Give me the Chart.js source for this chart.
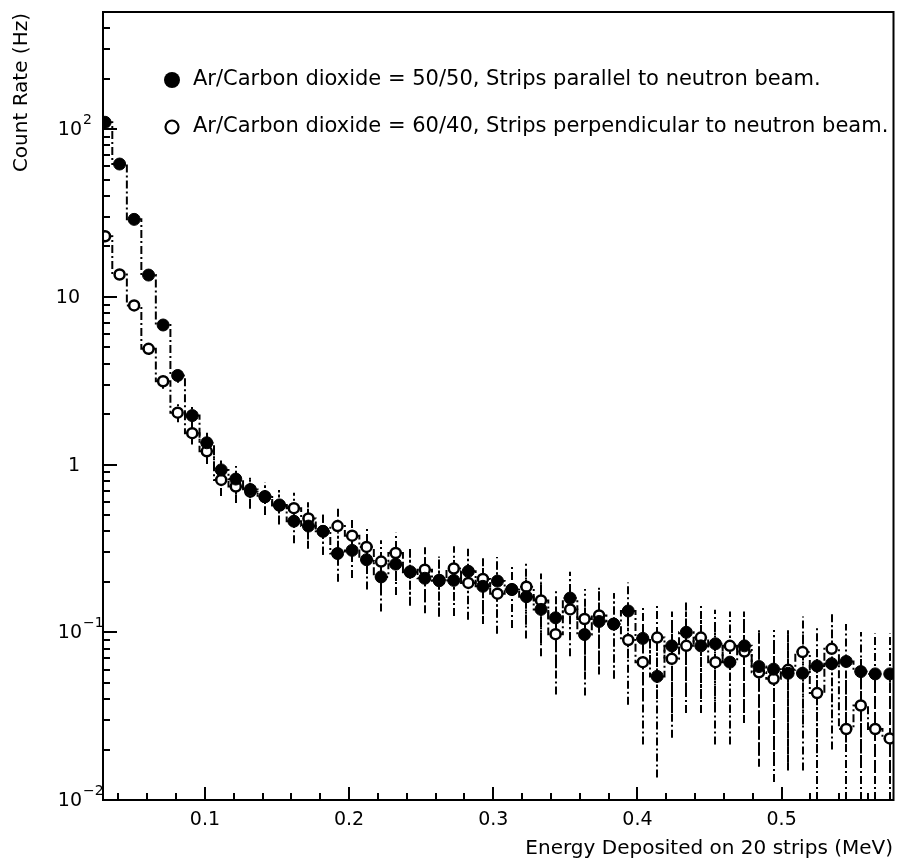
<!DOCTYPE html>
<html>
<head>
<meta charset="utf-8">
<script src="https://cdn.jsdelivr.net/npm/chart.js@4.4.1/dist/chart.umd.min.js"></script>
<style>
  body { margin: 0; background: #fff; }
  canvas { display: block; }
</style>
</head>
<body>
<canvas id="rateChart" width="901" height="866"></canvas>
<script>
// Centros de bin en energia (MeV)
const energia = [
  0.0307, 0.0408, 0.0509, 0.0609, 0.0710, 0.0811, 0.0912, 0.1013, 0.1113, 0.1214,
  0.1315, 0.1416, 0.1517, 0.1617, 0.1718, 0.1819, 0.1920, 0.2021, 0.2121, 0.2222,
  0.2323, 0.2424, 0.2525, 0.2625, 0.2726, 0.2827, 0.2928, 0.3029, 0.3129, 0.3230,
  0.3331, 0.3432, 0.3533, 0.3633, 0.3734, 0.3835, 0.3936, 0.4037, 0.4137, 0.4238,
  0.4339, 0.4440, 0.4541, 0.4641, 0.4742, 0.4843, 0.4944, 0.5045, 0.5145, 0.5246,
  0.5347, 0.5448, 0.5549, 0.5649, 0.5750
];
// Ar/CO2 = 50/50, strips paralelas (marcador lleno)
const tasaParalelo = [
  110, 62, 29, 13.5, 6.8, 3.4, 1.96, 1.35, 0.93, 0.82,
  0.71, 0.645, 0.575, 0.46, 0.43, 0.40, 0.295, 0.308, 0.271, 0.214,
  0.255, 0.23, 0.21, 0.203, 0.204, 0.231, 0.188, 0.202, 0.18, 0.163,
  0.137, 0.122, 0.16, 0.097, 0.116, 0.112, 0.134, 0.092, 0.0546, 0.083,
  0.100, 0.083, 0.0854, 0.0664, 0.083, 0.0625, 0.0603, 0.057, 0.057, 0.063,
  0.065, 0.067, 0.0583, 0.0565, 0.0565
];
const errParalelo = [
  1.84, 1.38, 0.94, 0.64, 0.46, 0.32, 0.245, 0.20, 0.17, 0.16,
  0.15, 0.14, 0.13, 0.12, 0.115, 0.11, 0.095, 0.097, 0.091, 0.081,
  0.088, 0.084, 0.080, 0.079, 0.079, 0.084, 0.076, 0.079, 0.074, 0.071,
  0.065, 0.061, 0.070, 0.055, 0.060, 0.059, 0.064, 0.053, 0.041, 0.050,
  0.055, 0.050, 0.051, 0.045, 0.050, 0.044, 0.043, 0.042, 0.042, 0.044,
  0.045, 0.045, 0.042, 0.042, 0.042
];
// Ar/CO2 = 60/40, strips perpendiculares (marcador vacio)
const tasaPerpendicular = [
  23, 13.6, 8.9, 4.9, 3.14, 2.04, 1.54, 1.2, 0.81, 0.74,
  0.69, 0.64, 0.57, 0.55, 0.477, 0.40, 0.43, 0.377, 0.323, 0.264,
  0.297, 0.228, 0.236, 0.205, 0.24, 0.197, 0.208, 0.17, 0.18, 0.187,
  0.155, 0.0975, 0.137, 0.12, 0.126, 0.112, 0.090, 0.0664, 0.093, 0.0695,
  0.083, 0.093, 0.0664, 0.083, 0.0768, 0.0578, 0.0528, 0.0597, 0.0762, 0.0434,
  0.0797, 0.0265, 0.0366, 0.0265, 0.0233
];
const errPerpendicular = [
  0.84, 0.65, 0.52, 0.39, 0.31, 0.25, 0.22, 0.19, 0.16, 0.15,
  0.145, 0.14, 0.13, 0.13, 0.12, 0.11, 0.115, 0.107, 0.10, 0.09,
  0.095, 0.084, 0.085, 0.079, 0.086, 0.078, 0.080, 0.072, 0.074, 0.076,
  0.069, 0.055, 0.065, 0.061, 0.062, 0.059, 0.053, 0.045, 0.053, 0.046,
  0.050, 0.053, 0.045, 0.050, 0.048, 0.042, 0.040, 0.043, 0.048, 0.036,
  0.049, 0.028, 0.033, 0.028, 0.027
];
// Ticks y etiquetas
const xTicks = [0.1, 0.2, 0.3, 0.4, 0.5];
const xTickLabels = ['0.1', '0.2', '0.3', '0.4', '0.5'];
const yTicks = [0.01, 0.1, 1, 10, 100];
const yTickLabels = [['10', '-2'], ['10', '-1'], ['1', ''], ['10', ''], ['10', '2']];
const leyenda = [
  'Ar/Carbon dioxide = 50/50, Strips parallel to neutron beam.',
  'Ar/Carbon dioxide = 60/40, Strips perpendicular to neutron beam.'
];
const tituloX = 'Energy Deposited on 20 strips (MeV)';
const tituloY = 'Count Rate (Hz)';

const FONT = '"DejaVu Sans", sans-serif';
const DASHDOT = [8, 3, 2, 3];

// Plugin: fondo, barras de error, marco, ticks, textos y leyenda
const marcoPlugin = {
  id: 'marco',
  beforeDraw(chart) {
    const ctx = chart.ctx;
    ctx.save();
    ctx.fillStyle = '#fff';
    ctx.fillRect(0, 0, chart.width, chart.height);
    ctx.restore();
  },
  beforeDatasetsDraw(chart) {
    const ctx = chart.ctx;
    const a = chart.chartArea;
    const xs = chart.scales.x, ys = chart.scales.y;
    ctx.save();
    ctx.beginPath();
    ctx.rect(a.left, a.top, a.right - a.left, a.bottom - a.top);
    ctx.clip();
    ctx.strokeStyle = '#000';
    ctx.lineWidth = 2;
    ctx.setLineDash(DASHDOT);
    chart.data.datasets.forEach(ds => {
      ds.data.forEach((v, i) => {
        const e = ds.errores[i];
        const px = Math.round(xs.getPixelForValue(energia[i]));
        const hi = ys.getPixelForValue(v + e);
        const lo = v - e > ys.min ? ys.getPixelForValue(v - e) : a.bottom;
        ctx.beginPath();
        ctx.moveTo(px, lo);
        ctx.lineTo(px, hi);
        ctx.stroke();
      });
    });
    ctx.restore();
  },
  afterDraw(chart) {
    const ctx = chart.ctx;
    const a = chart.chartArea;
    const xs = chart.scales.x, ys = chart.scales.y;
    ctx.save();
    ctx.strokeStyle = '#000';
    ctx.fillStyle = '#000';
    ctx.lineWidth = 2;
    ctx.setLineDash([]);
    ctx.strokeRect(a.left, a.top, a.right - a.left, a.bottom - a.top);

    // ticks eje y (log)
    ctx.beginPath();
    for (let d = -2; d <= 2; d++) {
      for (let k = 1; k <= 9; k++) {
        const v = k * Math.pow(10, d);
        if (v > ys.max) break;
        const py = Math.round(ys.getPixelForValue(v));
        ctx.moveTo(a.left, py);
        ctx.lineTo(a.left + (k === 1 ? 14 : 7), py);
      }
    }
    // ticks eje x
    for (let t = 0.04; t < xs.max; t += 0.02) {
      const px = Math.round(xs.getPixelForValue(t));
      const major = Math.abs(t * 10 - Math.round(t * 10)) < 1e-6;
      ctx.moveTo(px, a.bottom);
      ctx.lineTo(px, a.bottom - (major ? 13 : 7));
    }
    ctx.stroke();

    // etiquetas eje y
    ctx.textBaseline = 'middle';
    yTicks.forEach((v, i) => {
      const py = ys.getPixelForValue(v);
      const [base, exp] = yTickLabels[i];
      ctx.font = '19px ' + FONT;
      ctx.textAlign = 'right';
      if (exp) {
        ctx.fillText(base, 82, py + 1);
        ctx.font = '14px ' + FONT;
        ctx.textAlign = 'left';
        ctx.fillText(exp.replace('-', '\u2212'), 83, py - 9);
      } else {
        ctx.fillText(base, 80, py + 1);
      }
    });
    // etiquetas eje x
    ctx.font = '19px ' + FONT;
    ctx.textAlign = 'center';
    xTicks.forEach((v, i) => {
      ctx.fillText(xTickLabels[i], xs.getPixelForValue(v), 820);
    });
    // titulos
    ctx.font = '20px ' + FONT;
    ctx.textAlign = 'right';
    ctx.fillText(tituloX, 893, 849);
    ctx.save();
    ctx.translate(22, 13);
    ctx.rotate(-Math.PI / 2);
    ctx.textAlign = 'right';
    ctx.fillText(tituloY, 0, 0);
    ctx.restore();

    // leyenda
    ctx.font = '21px ' + FONT;
    ctx.textAlign = 'left';
    ctx.beginPath();
    ctx.arc(172, 80, 8, 0, Math.PI * 2);
    ctx.fill();
    ctx.fillText(leyenda[0], 193, 80);
    ctx.beginPath();
    ctx.arc(172, 127, 6.5, 0, Math.PI * 2);
    ctx.lineWidth = 2.2;
    ctx.stroke();
    ctx.fillText(leyenda[1], 193, 127);
    ctx.restore();
  }
};

const ctx = document.getElementById('rateChart');
const myChart = new Chart(ctx, {
  type: 'line',
  data: {
    datasets: [{
      label: leyenda[0],
      data: tasaParalelo,
      errores: errParalelo,
      stepped: 'middle',
      borderColor: '#000',
      borderWidth: 2,
      borderDash: DASHDOT,
      pointRadius: 6,
      pointBackgroundColor: '#000',
      pointBorderColor: '#000',
      pointBorderWidth: 1,
    }, {
      label: leyenda[1],
      data: tasaPerpendicular,
      errores: errPerpendicular,
      stepped: 'middle',
      borderColor: '#000',
      borderWidth: 2,
      borderDash: DASHDOT,
      pointRadius: 5,
      pointBackgroundColor: '#fff',
      pointBorderColor: '#000',
      pointBorderWidth: 2.5,
    }],
    labels: energia,
  },
  options: {
    responsive: false,
    animation: false,
    devicePixelRatio: 1,
    layout: { padding: { left: 103, right: 7, top: 12, bottom: 66 } },
    plugins: { legend: { display: false }, tooltip: { enabled: false } },
    scales: {
      x: { type: 'linear', min: 0.0293, max: 0.5776, display: false },
      y: { type: 'logarithmic', min: 0.01, max: 500, display: false },
    },
  },
  plugins: [marcoPlugin],
});
</script>
</body>
</html>
